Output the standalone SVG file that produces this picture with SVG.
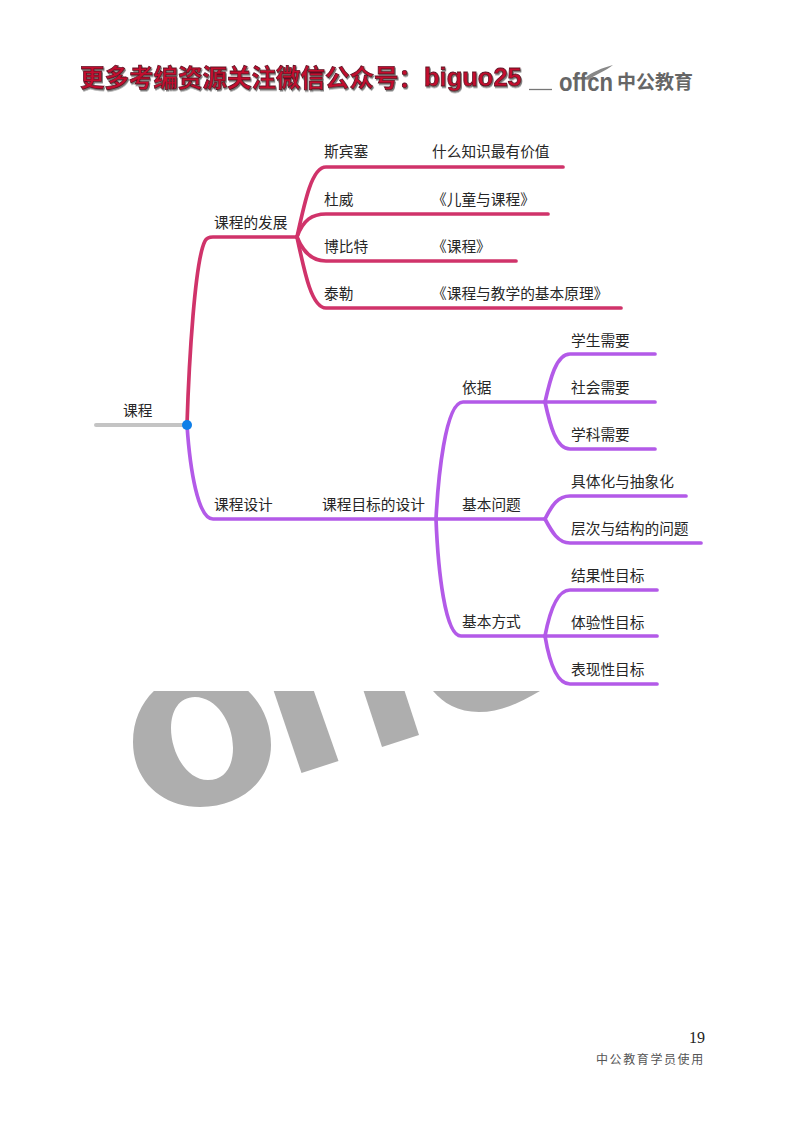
<svg xmlns="http://www.w3.org/2000/svg" width="800" height="1124" viewBox="0 0 800 1124">
<style>
text{font-family:"Noto Sans CJK SC","Noto Sans",sans-serif;font-size:14.7px;fill:#262626}
.c{fill:none;stroke-width:3.7;stroke-linecap:round;stroke-linejoin:round}
.r{stroke:#d0336a}
.p{stroke:#b35ae8}
.h{font-size:24.5px;font-weight:700;fill:#c4102f;stroke:#5e0f22;stroke-width:.8;filter:url(#sh)}
</style>
<defs>
<filter id="sh" x="-5%" y="-20%" width="110%" height="150%"><feDropShadow dx="1" dy="1.5" stdDeviation=".6" flood-color="#777"/></filter>
<clipPath id="wm"><rect x="100" y="691" width="500" height="130"/></clipPath>
</defs>
<rect width="800" height="1124" fill="#fff"/>
<g id="header">
<text class="h" x="80" y="87">更多考编资源关注微信公众号：</text>
<text class="h" x="424" y="86" style="font-family:'Liberation Sans',sans-serif;font-size:25.5px">biguo25</text>
<path d="M529 89.500H552" stroke="#777" stroke-width="1.300" fill="none"/>
<text x="559" y="91" style="font-family:'Liberation Sans',sans-serif;font-size:25px;font-weight:700;fill:#666" textLength="54" lengthAdjust="spacingAndGlyphs">offcn</text>
<path d="M585 78C592 72 602 68 613 65C606 71 596 74 588 80Z" fill="#888"/>
<text x="617" y="89" style="font-size:19px;font-weight:700;fill:#666">中公教育</text>
</g>
<g id="watermark" clip-path="url(#wm)" fill="#aeaeae">
<path fill-rule="evenodd" d="M133 742C133 700 165 672 202 672C240 672 271 705 271 745C271 782 240 807 200 807C163 807 133 782 133 742ZM171 728C171 752 186 780 208 780C226 780 233 765 233 748C233 722 216 697 195 697C179 697 171 711 171 728Z"/>
<path d="M270 680H310L338.500 761L301.500 773Z"/>
<path d="M360 680H401L419 735L382 747Z"/>
<path d="M433 691H540C520 703 500 712 479 712C458 712 443 703 433 691Z"/>
</g>
<g id="connectors">
<path class="c" d="M96 425H187" stroke="#c4c4c4" style="stroke-width:4"/>
<path class="c r" d="M187 425C189 360 195 260 205 241Q207 237 213 237H297"/>
<path class="c r" d="M297 237C305 200 312 167 326 167H563"/>
<path class="c r" d="M297 237C303 220 312 214 326 214H548"/>
<path class="c r" d="M297 237C303 252 312 261 326 261H516"/>
<path class="c r" d="M297 237C305 275 312 308 326 308H621"/>
<path class="c p" d="M187 425C190 470 198 519 213 519H436"/>
<path class="c p" d="M436 519C438 480 445 402 463 402H545"/>
<path class="c p" d="M436 519H545"/>
<path class="c p" d="M436 519C438 570 445 636 461 636H545"/>
<path class="c p" d="M545 402C550 380 556 354 570 354H655"/>
<path class="c p" d="M545 402H655"/>
<path class="c p" d="M545 402C550 425 556 449 570 449H655"/>
<path class="c p" d="M545 519C552 505 558 496 570 496H686"/>
<path class="c p" d="M545 519C552 532 558 543 570 543H701"/>
<path class="c p" d="M545 636C549 615 556 590 570 590H657"/>
<path class="c p" d="M545 636H657"/>
<path class="c p" d="M545 636C549 660 556 684 570 684H657"/>
</g>
<g id="root"><text x="123" y="416">课程</text><circle cx="187" cy="425" r="5" fill="#0f7fe8"/></g>
<g id="n-fazhan"><text x="214" y="228">课程的发展</text></g>
<g id="n-spencer"><text x="324" y="157">斯宾塞</text></g>
<g id="n-spencer-work"><text x="432" y="157">什么知识最有价值</text></g>
<g id="n-dewey"><text x="324" y="205">杜威</text></g>
<g id="n-dewey-work"><text x="432" y="205">《儿童与课程》</text></g>
<g id="n-bobbitt"><text x="324" y="252">博比特</text></g>
<g id="n-bobbitt-work"><text x="432" y="252">《课程》</text></g>
<g id="n-tyler"><text x="324" y="299">泰勒</text></g>
<g id="n-tyler-work"><text x="432" y="299">《课程与教学的基本原理》</text></g>
<g id="n-sheji"><text x="214" y="510">课程设计</text></g>
<g id="n-mubiao"><text x="322" y="510">课程目标的设计</text></g>
<g id="n-yiju"><text x="462" y="393">依据</text></g>
<g id="n-wenti"><text x="462" y="510">基本问题</text></g>
<g id="n-fangshi"><text x="462" y="627">基本方式</text></g>
<g id="n-a1"><text x="571" y="346">学生需要</text></g>
<g id="n-a2"><text x="571" y="393">社会需要</text></g>
<g id="n-a3"><text x="571" y="440">学科需要</text></g>
<g id="n-b1"><text x="571" y="487">具体化与抽象化</text></g>
<g id="n-b2"><text x="571" y="534">层次与结构的问题</text></g>
<g id="n-c1"><text x="571" y="581">结果性目标</text></g>
<g id="n-c2"><text x="571" y="628">体验性目标</text></g>
<g id="n-c3"><text x="571" y="675">表现性目标</text></g>
<g id="footer">
<text x="689" y="1043" style="font-family:'Liberation Serif',serif;font-size:16px;fill:#222">19</text>
<text x="596" y="1064" style="font-size:12px;letter-spacing:1.6px;fill:#555">中公教育学员使用</text>
</g>
</svg>
